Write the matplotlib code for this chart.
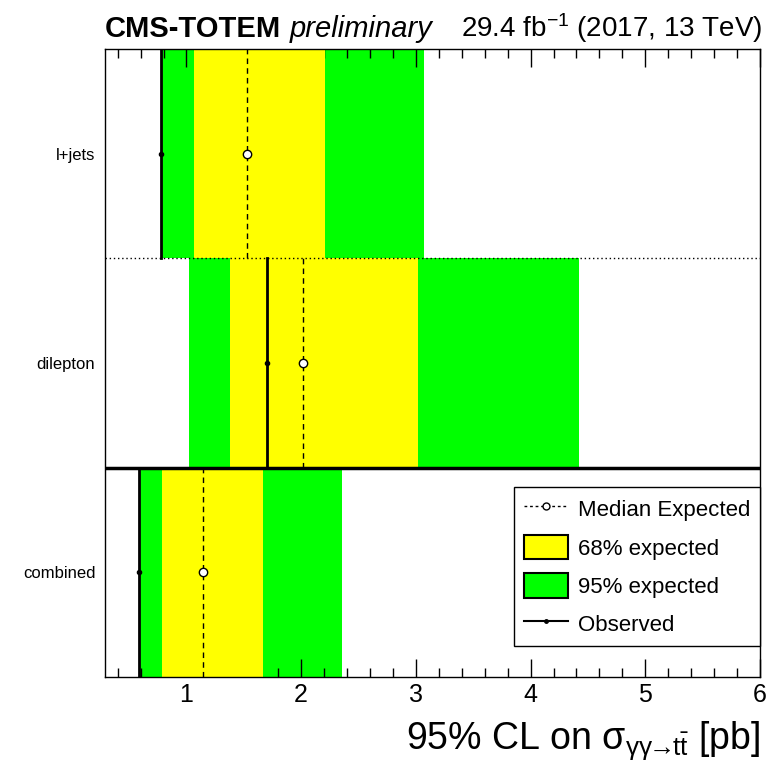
import matplotlib
matplotlib.use("Agg")
import matplotlib.pyplot as plt
from matplotlib.lines import Line2D
from matplotlib.patches import Patch

plt.rcParams['font.family'] = ['Liberation Sans', 'DejaVu Sans']
plt.rcParams['mathtext.fontset'] = 'custom'
plt.rcParams['mathtext.rm'] = 'Liberation Sans'
plt.rcParams['mathtext.it'] = 'Liberation Sans:italic'

# channels, top to bottom
channels = ['l+jets', 'dilepton', 'combined']
observed = [0.78, 1.70, 0.59]
median = [1.53, 2.02, 1.14]
lo68 = [1.07, 1.38, 0.79]
hi68 = [2.21, 3.02, 1.67]
lo95 = [0.78, 1.02, 0.59]
hi95 = [3.07, 4.42, 2.36]

fig = plt.figure(figsize=(7.73, 7.70), dpi=100)
ax = fig.add_axes([105/773, 1 - 677/770, 655/773, 628/770])

n = len(channels)
ypos = [n - 1 - i for i in range(n)]

for i, y in enumerate(ypos):
    ax.fill_betweenx([y - 0.5, y + 0.5], lo95[i], hi95[i], color='#00ff00', lw=0, zorder=1)
    ax.fill_betweenx([y - 0.5, y + 0.5], lo68[i], hi68[i], color='#ffff00', lw=0, zorder=2)
    ax.plot([median[i], median[i]], [y - 0.5, y + 0.5], color='black', ls=(0, (4, 3)), lw=1, zorder=3)
    ax.plot(median[i], y, 'o', mfc='white', mec='black', ms=6, mew=1, zorder=4)
    ax.plot([observed[i], observed[i]], [y - 0.5, y + 0.5], color='black', lw=2, zorder=3)
    ax.plot(observed[i], y, 'o', color='black', ms=3, zorder=4)

# row separators
ax.axhline(1.5, color='black', ls=(0, (1, 2)), lw=1, zorder=5)
ax.axhline(0.5, color='black', lw=2.5, zorder=5)

ax.set_xlim(0.29, 6)
ax.set_ylim(-0.5, 2.5)
ax.set_xticks([1, 2, 3, 4, 5, 6])
ax.set_xticks([x / 5 for x in range(2, 30)], minor=True)
ax.tick_params(axis='x', which='both', direction='in', top=True, bottom=True, labelsize=18, pad=4)
ax.tick_params(axis='x', which='major', length=13, width=1)
ax.tick_params(axis='x', which='minor', length=6.5, width=1)
ax.set_yticks(ypos)
ax.set_yticklabels(channels, fontsize=12)
ax.tick_params(axis='y', length=0, pad=7)
for s in ax.spines.values():
    s.set_linewidth(1)
    s.set_zorder(6)

ax.set_xlabel(r'95% CL on $\mathregular{\sigma_{\gamma\gamma\!\!\rightarrow\!\!t\bar{t}}}$ [pb]',
              fontsize=27, loc='right', labelpad=9)

# header
renderer = fig.canvas.get_renderer()
t1 = fig.text(105/773, 1 - 37/770, 'CMS-TOTEM', fontsize=21, fontweight='bold', ha='left', va='baseline')
w = t1.get_window_extent(renderer).width
fig.text((105 + w + 8) / 773, 1 - 37/770, 'preliminary', fontsize=21, style='italic',
         ha='left', va='baseline')
fig.text(762/773, 1 - 37/770, r'29.4 fb$^{-1}$ (2017, 13 TeV)', fontsize=20, ha='right', va='baseline')

handles = [
    Line2D([], [], color='black', ls=(0, (2, 2)), lw=1, marker='o', mfc='white', mec='black', ms=5),
    Patch(facecolor='#ffff00', edgecolor='black', lw=1.5),
    Patch(facecolor='#00ff00', edgecolor='black', lw=1.5),
    Line2D([], [], color='black', lw=1.5, marker='o', ms=2.5),
]
labels = ['Median Expected', '68% expected', '95% expected', 'Observed']
leg = ax.legend(handles, labels, loc='lower right', bbox_to_anchor=(1.0, 0.049), fontsize=16,
                frameon=True, fancybox=False, edgecolor='black', framealpha=1,
                handlelength=1.95, handleheight=1.3, labelspacing=0.62, borderpad=0.45,
                handletextpad=0.45, borderaxespad=0)
leg.get_frame().set_linewidth(1)
leg.set_zorder(10)

fig.savefig('out.png', dpi=100)
